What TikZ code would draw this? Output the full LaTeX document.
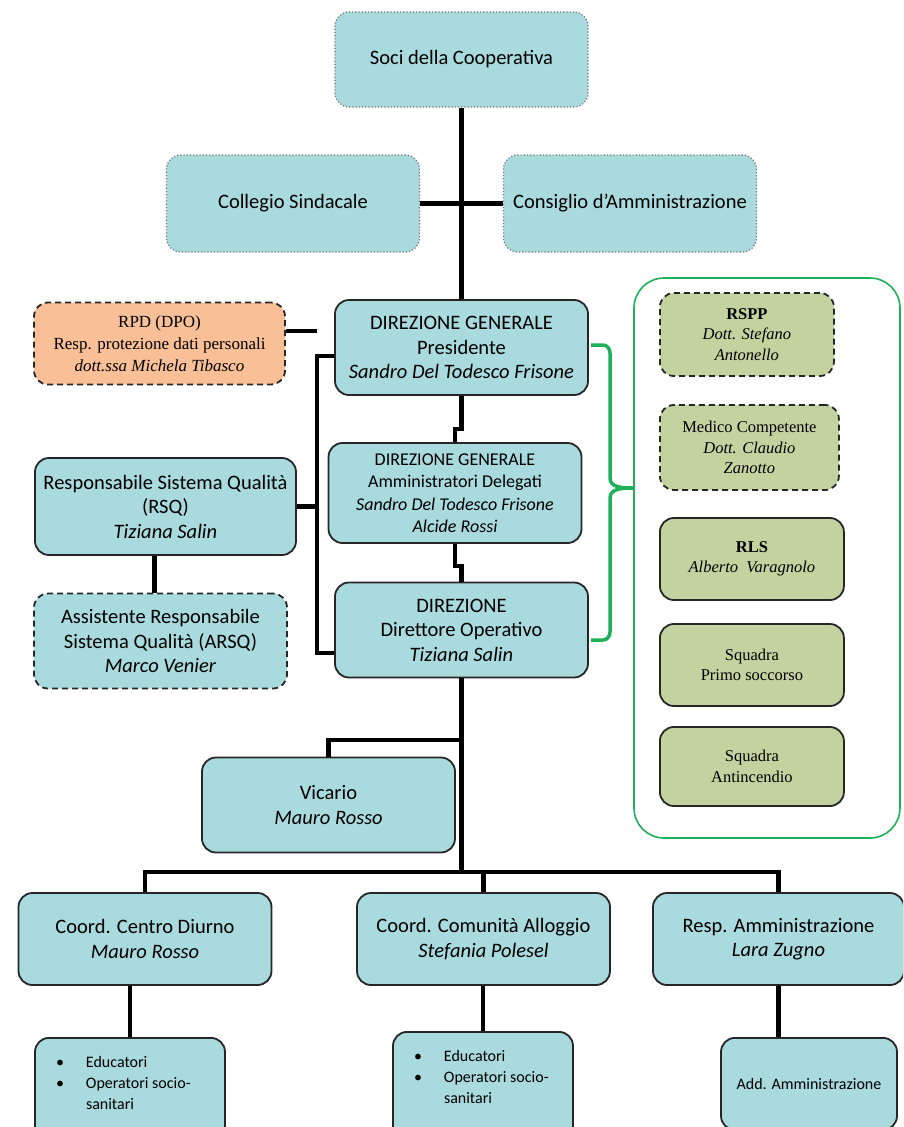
\documentclass[tikz,border=0pt]{standalone}
\usepackage{fontspec}
\setmainfont{Carlito}
\newfontfamily\tnr{Liberation Serif}
\usetikzlibrary{calc}
\definecolor{tealbox}{HTML}{A9DADD}
\definecolor{olivebox}{HTML}{C3D3A0}
\definecolor{orangebox}{HTML}{F9BF97}
\definecolor{greenline}{HTML}{1FB05A}
\newcommand{\blt}{\makebox[30pt][l]{\textbullet}}
\newcommand{\nob}{\hspace*{30pt}}

\tikzset{
    box/.style={draw=black!85, line width=1.8pt, fill=tealbox, rounded corners=14pt,
        align=center, minimum width=253pt, minimum height=95pt,
        font=\fontsize{20.5}{24.5}\selectfont},
    topbox/.style={box, draw=black!55, line width=1.2pt, dotted},
    dashbox/.style={box, dash pattern=on 6pt off 4pt},
    safebox/.style={box, fill=olivebox, anchor=west, minimum width=184pt,
        minimum height=82pt, font=\tnr\fontsize{16.5}{20.5}\selectfont},
    listbox/.style={box, anchor=north, minimum width=190pt, inner xsep=21pt,
        inner ysep=18pt, font=\fontsize{16}{21}\selectfont},
    link/.style={draw=black, line width=4.5pt},
    brace/.style={draw=greenline, line width=3.5pt}
}

\begin{document}
\begin{tikzpicture}[x=1pt,y=-1pt]
    \useasboundingbox (0,0) rectangle (903,1127);
    \clip (0,0) rectangle (903,1127);

    % organi sociali
    \node[topbox] (soci) at (461.5,59.5) {Soci della Cooperativa};
    \node[topbox, minimum height=97pt] (collegio) at (293,203.5) {Collegio Sindacale};
    \node[topbox, minimum height=97pt] (consiglio) at (630,203.5) {Consiglio d’Amministrazione};

    % direzione
    \node[box] (dg) at (461.5,347.5) {DIREZIONE GENERALE\\Presidente\\\textit{Sandro Del Todesco Frisone}};
    \node[box, minimum height=100pt, font=\fontsize{18}{22.5}\selectfont] (dga) at (455,493)
        {DIREZIONE GENERALE\\Amministratori Delegati\\\textit{Sandro Del Todesco Frisone}\\\textit{Alcide Rossi}};
    \node[box] (dir) at (461.5,630) {DIREZIONE\\Direttore Operativo\\\textit{Tiziana Salin}};

    \node[dashbox, fill=orangebox, minimum width=251pt, minimum height=82pt,
        font=\tnr\fontsize{17}{22}\selectfont] (rpd) at (159.5,343.5)
        {RPD (DPO)\\Resp. protezione dati personali\\\textit{dott.ssa Michela Tibasco}};
    \node[box, minimum width=261pt, minimum height=97pt] (rsq) at (165.5,506.5)
        {Responsabile Sistema Qualità\\(RSQ)\\\textit{Tiziana Salin}};
    \node[dashbox] (arsq) at (160.5,641) {Assistente Responsabile\\Sistema Qualità (ARSQ)\\\textit{Marco Venier}};

    % sicurezza
    \node[draw=greenline, line width=1.6pt, rounded corners=30pt, minimum width=266pt,
        minimum height=560pt] (sicurezza) at (767,558) {};
    \node[safebox, dash pattern=on 6pt off 4pt, minimum width=174pt, minimum height=83pt] (rspp) at (659,334.5)
        {\textbf{RSPP}\\\textit{Dott. Stefano}\\\textit{Antonello}};
    \node[safebox, dash pattern=on 6pt off 4pt, minimum width=179pt, minimum height=85pt] (medico) at (659,447.5)
        {Medico Competente\\\textit{Dott. Claudio}\\\textit{Zanotto}};
    \node[safebox] (rls) at (659,559) {\textbf{RLS}\\\textit{Alberto\ \ Varagnolo}};
    \node[safebox] (primo) at (659,665) {Squadra\\Primo soccorso};
    \node[safebox, minimum height=79pt] (anti) at (659,766.5) {Squadra\\Antincendio};

    % area operativa
    \node[box] (vicario) at (328.5,805) {Vicario\\\textit{Mauro Rosso}};
    \node[box, minimum height=92pt] (ccd) at (145,939) {Coord. Centro Diurno\\\textit{Mauro Rosso}};
    \node[box, minimum height=92pt] (cca) at (483.5,939) {Coord. Comunità Alloggio\\\textit{Stefania Polesel}};
    \node[box, minimum height=92pt, minimum width=251pt] (ram) at (778.5,939) {Resp. Amministrazione\\\textit{Lara Zugno}};

    \node[listbox] (edu1) at (130,1037) {\parbox[c][100pt][t]{148pt}{\raggedright
        \blt Educatori\\\blt Operatori socio-\\\nob sanitari}};
    \node[listbox, minimum width=180pt] (edu2) at (483,1031) {\parbox[c][100pt][t]{138pt}{\raggedright
        \blt Educatori\\\blt Operatori socio-\\\nob sanitari}};
    \node[listbox, minimum width=176pt, minimum height=92pt, inner xsep=6pt] (add) at (809,1037)
        {Add. Amministrazione};

    % collegamenti
    \coordinate (rpdend) at (317,331);
    \coordinate (spt) at (317,356);
    \coordinate (spb) at (317,653);
    \coordinate (vb) at (461.5,740);
    \coordinate (bar) at (461.5,872);

    \draw[link] (soci) -- (dg);
    \draw[link] (collegio) -- (consiglio);
    \draw[link] (rpd.east |- rpdend) -- (rpdend);
    \draw[link] (dg.west |- spt) -| (spb) -- (dir.west |- spb);
    \draw[link] (rsq.east) -- (rsq.east -| spt);
    \draw[link] ([xshift=-6pt]arsq.north) -- ([xshift=-6pt]arsq.north |- rsq.south);
    \draw[link] (dg.south) -- ++(0,33) -| (dga.north);
    \draw[link] (dga.south) -- ++(0,22) -| (dir.north);
    \draw[link] (dir.south) -- (bar);
    \draw[link] (vb) -| (vicario.north);
    \draw[link] (ccd.north) |- (bar) -| (ram.north);
    \draw[link] (cca.north) -- (cca.north |- bar);
    \draw[link] (edu1.north) -- (edu1.north |- ccd.south);
    \draw[link] (edu2.north) -- (edu2.north |- cca.south);
    \draw[link] (add.north -| ram.south) -- (ram.south);

    % parentesi verso la sicurezza
    \coordinate (bt) at (591,345);
    \coordinate (bb) at (591,640);
    \draw[brace] (bt) -- ++(12,0) to[out=0,in=90] ++(7,8) -- (610,478)
        to[out=-90,in=180] (sicurezza.west |- 0,488) to[out=180,in=90] (610,498)
        -- (610,632) to[out=-90,in=0] ++(-7,8) -- (bb);
\end{tikzpicture}
\end{document}
